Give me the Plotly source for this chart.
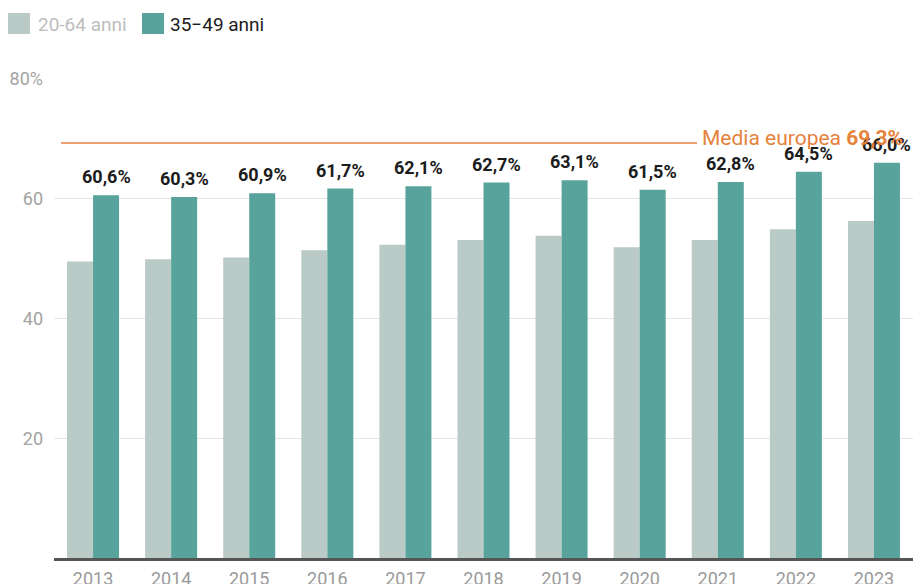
import plotly.graph_objects as go

# Tasso di occupazione femminile per fascia d'età, 2013-2023
years = ["2013", "2014", "2015", "2016", "2017", "2018",
         "2019", "2020", "2021", "2022", "2023"]
eta_20_64 = [49.5, 49.9, 50.2, 51.4, 52.3, 53.1, 53.8, 51.9, 53.1, 54.9, 56.3]
eta_35_49 = [60.6, 60.3, 60.9, 61.7, 62.1, 62.7, 63.1, 61.5, 62.8, 64.5, 66.0]
media_europea = 69.3

y_tickvals = [20, 40, 60, 80]
y_ticktext = ["20", "40", "60", "80%"]

LIGHT = "#bacac7"
DARK = "#58a49c"
ORANGE = "#e5823c"
FONT = "Roboto"

W, H = 913, 584
ML, MR, MT, MB = 54, 0, 79, 26
PW, PH = W - ML - MR, H - MT - MB


def px_x(px):
    return (px - ML) / PW


def px_y(py):
    return (H - MB - py) / PH


def it(v):
    return f"{v:.1f}".replace(".", ",") + "%"


idx = list(range(len(years)))

fig = go.Figure()
fig.add_bar(x=idx, y=eta_20_64, name="20-64 anni", marker_color=LIGHT,
            marker_line_width=0, showlegend=False)
fig.add_bar(x=idx, y=eta_35_49, name="35−49 anni", marker_color=DARK,
            marker_line_width=0, showlegend=False)

annotations = []
for i, v in zip(idx, eta_35_49):
    annotations.append(dict(
        x=i, y=v, xref="x", yref="y", xshift=13, yshift=6,
        text=f"<b>{it(v)}</b>", showarrow=False, yanchor="bottom",
        font=dict(family=FONT, size=18, color="#1c1c1c")))

# linea della media europea con etichetta
shapes = [dict(type="line", xref="paper", yref="y",
               x0=px_x(61), x1=px_x(697), y0=media_europea, y1=media_europea,
               line=dict(color=ORANGE, width=1.6))]
annotations.append(dict(
    x=px_x(700), y=media_europea, xref="paper", yref="y",
    xanchor="left", yanchor="middle", yshift=5, showarrow=False,
    text=f"Media europea <b>{it(media_europea)}</b>",
    font=dict(family=FONT, size=21, color=ORANGE)))

# legenda
legend_items = [("20-64 anni", LIGHT, "#bdbdbd", 8, 36),
                ("35−49 anni", DARK, "#1c1c1c", 142, 168)]
for label, col, txtcol, sx, tx in legend_items:
    shapes.append(dict(type="rect", xref="paper", yref="paper",
                       x0=px_x(sx), x1=px_x(sx + 22), y0=px_y(34), y1=px_y(13),
                       fillcolor=col, line_width=0))
    annotations.append(dict(
        x=px_x(tx), y=px_y(24), xref="paper", yref="paper",
        xanchor="left", yanchor="middle", showarrow=False, text=label,
        font=dict(family=FONT, size=19, color=txtcol)))

fig.update_layout(
    width=W, height=H,
    margin=dict(l=ML, r=MR, t=MT, b=MB, pad=0, autoexpand=False),
    paper_bgcolor="white", plot_bgcolor="white",
    barmode="group", bargap=0.334, bargroupgap=0,
    font=dict(family=FONT),
    shapes=shapes, annotations=annotations,
    xaxis=dict(
        range=[-0.5, len(years) - 0.5], tickvals=idx, ticktext=years,
        showgrid=False, zeroline=False, ticks="", automargin=False,
        showline=True, linecolor="#555555", linewidth=2.5,
        tickfont=dict(family=FONT, size=18, color="#9a9a9a"),
        ticklabelstandoff=3, fixedrange=True),
    yaxis=dict(
        range=[0, 80], tickvals=y_tickvals, ticktext=y_ticktext,
        showgrid=True, gridcolor="#e6e6e6", gridwidth=1, automargin=False,
        zeroline=False, showline=False, ticks="",
        tickfont=dict(family=FONT, size=18, color="#a3a3a3"),
        ticklabelstandoff=10, fixedrange=True),
)

fig.write_html("out.html")
